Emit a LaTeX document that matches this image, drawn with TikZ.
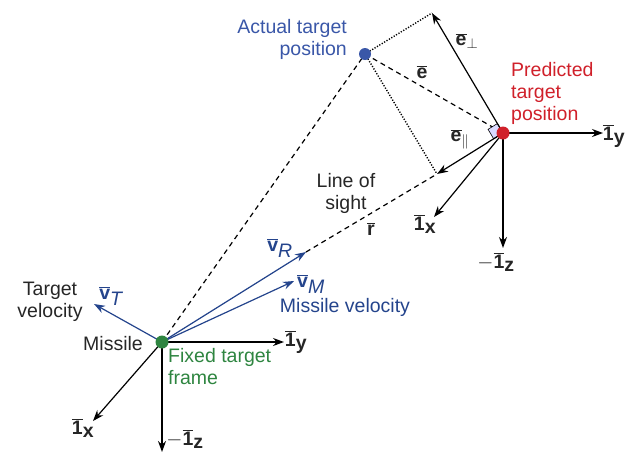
\documentclass[tikz,border=0pt]{standalone}
\usepackage{fontspec}
\setmainfont{Liberation Sans}
\usetikzlibrary{arrows.meta,calc}
\definecolor{tblue}{HTML}{3A57A8}
\definecolor{vblue}{HTML}{24448C}
\definecolor{tred}{HTML}{D0202A}
\definecolor{tgreen}{HTML}{2E8540}
\newcommand{\ovb}[1]{$\overline{\mbox{\textbf{#1}}}$}
\begin{document}
\begin{tikzpicture}[x=1pt,y=-1pt,
  every node/.style={font=\fontsize{19.5}{22}\selectfont, inner sep=1pt, text=black!85},
  axis/.style={black, line width=1.2pt, -{Stealth[length=11pt,width=8pt]}},
  vel/.style={vblue, line width=1.2pt, -{Stealth[length=11pt,width=8pt]}},
  dashln/.style={black, line width=1.2pt, dash pattern=on 5pt off 4pt},
  dotln/.style={black, line width=1.4pt, dash pattern=on 1.2pt off 1.6pt},
  dotnode/.style={circle, minimum size=13pt, inner sep=0pt}]
\useasboundingbox (0,0) rectangle (631,451);
% points
\coordinate (M) at (162,342);
\coordinate (P) at (503,133);
\coordinate (A) at (365,54);
\coordinate (Eperp) at (432,13);
\coordinate (Epar) at (437,174);
\coordinate (MyT) at (284,342);
\coordinate (MxT) at (93,421);
\coordinate (MzT) at (162,452);
\coordinate (PyT) at (603,133);
\coordinate (PxT) at (434,217);
\coordinate (PzT) at (503,248);
\coordinate (vT) at (94,304);
\coordinate (vM) at (294,281);
\coordinate (vR) at (306,252);
\coordinate (S1) at ($(P)!11pt!(Eperp)$);
\coordinate (S2) at ($(P)!11pt!(Epar)$);
\coordinate (S3) at ($(S1)+(S2)-(P)$);
% dashed / dotted lines
\draw[dashln] (M) -- (A);
\draw[dashln] (vR) -- (Epar);
\draw[dashln] (A) -- (P);
\draw[dotln] (A) -- (Eperp);
\draw[dotln] (A) -- (Epar);
% right angle square
\draw[black, line width=0.6pt, fill=blue!15] (P) -- (S1) -- (S3) -- (S2) -- cycle;
% predicted axes and errors
\draw[axis] (P) -- (Eperp);
\draw[axis] (P) -- (Epar);
\draw[axis] (P) -- (PyT);
\draw[axis] (P) -- (PxT);
\draw[axis] (P) -- (PzT);
% missile axes
\draw[axis] (M) -- (MyT);
\draw[axis] (M) -- (MxT);
\draw[axis] (M) -- (MzT);
% velocities
\draw[vel] (M) -- (vT);
\draw[vel] (M) -- (vM);
\draw[vel] (M) -- (vR);
% dots
\node[dotnode, fill=tgreen] (Md) at (M) {};
\node[dotnode, fill=tred] (Pd) at (P) {};
\node[dotnode, fill=tblue, minimum size=12pt] (Ad) at (A) {};
% labels
\node[text=tblue, align=right, anchor=east] (la) at (348,39) {Actual target\\position};
\node[text=tred, align=left, anchor=west] (lp) at (510,93) {Predicted\\target\\position};
\node (leperp) at (467,41) {\ovb{e}$_\perp$};
\node (le) at (422,72) {\ovb{e}};
\node (lepar) at (460,139) {\ovb{e}$_\parallel$};
\node (lPy) at (614,136) {\ovb{1}$_{\textbf{y}}$};
\node (lPx) at (425,224) {\ovb{1}$_{\textbf{x}}$};
\node (lPz) at (496,262) {$-$\ovb{1}$_{\textbf{z}}$};
\node[align=center] (los) at (346,193) {Line of\\sight};
\node (lr) at (371,229) {\ovb{r}};
\node[text=vblue] (lvR) at (280,248) {\ovb{v}$_{\textit{R}}$};
\node[text=vblue] (lvM) at (311,284) {\ovb{v}$_{\textit{M}}$};
\node[text=vblue] (lmv) at (345,307) {Missile velocity};
\node[text=vblue] (lvT) at (111,296) {\ovb{v}$_{\textit{T}}$};
\node[align=center] (ltv) at (50,302) {Target\\velocity};
\node (lmis) at (113,344) {Missile};
\node[text=tgreen, align=left, anchor=west] (lft) at (167,367) {Fixed target\\frame};
\node (lMy) at (296,342) {\ovb{1}$_{\textbf{y}}$};
\node (lMx) at (83,428) {\ovb{1}$_{\textbf{x}}$};
\node (lMz) at (185,439) {$-$\ovb{1}$_{\textbf{z}}$};
\end{tikzpicture}
\end{document}
